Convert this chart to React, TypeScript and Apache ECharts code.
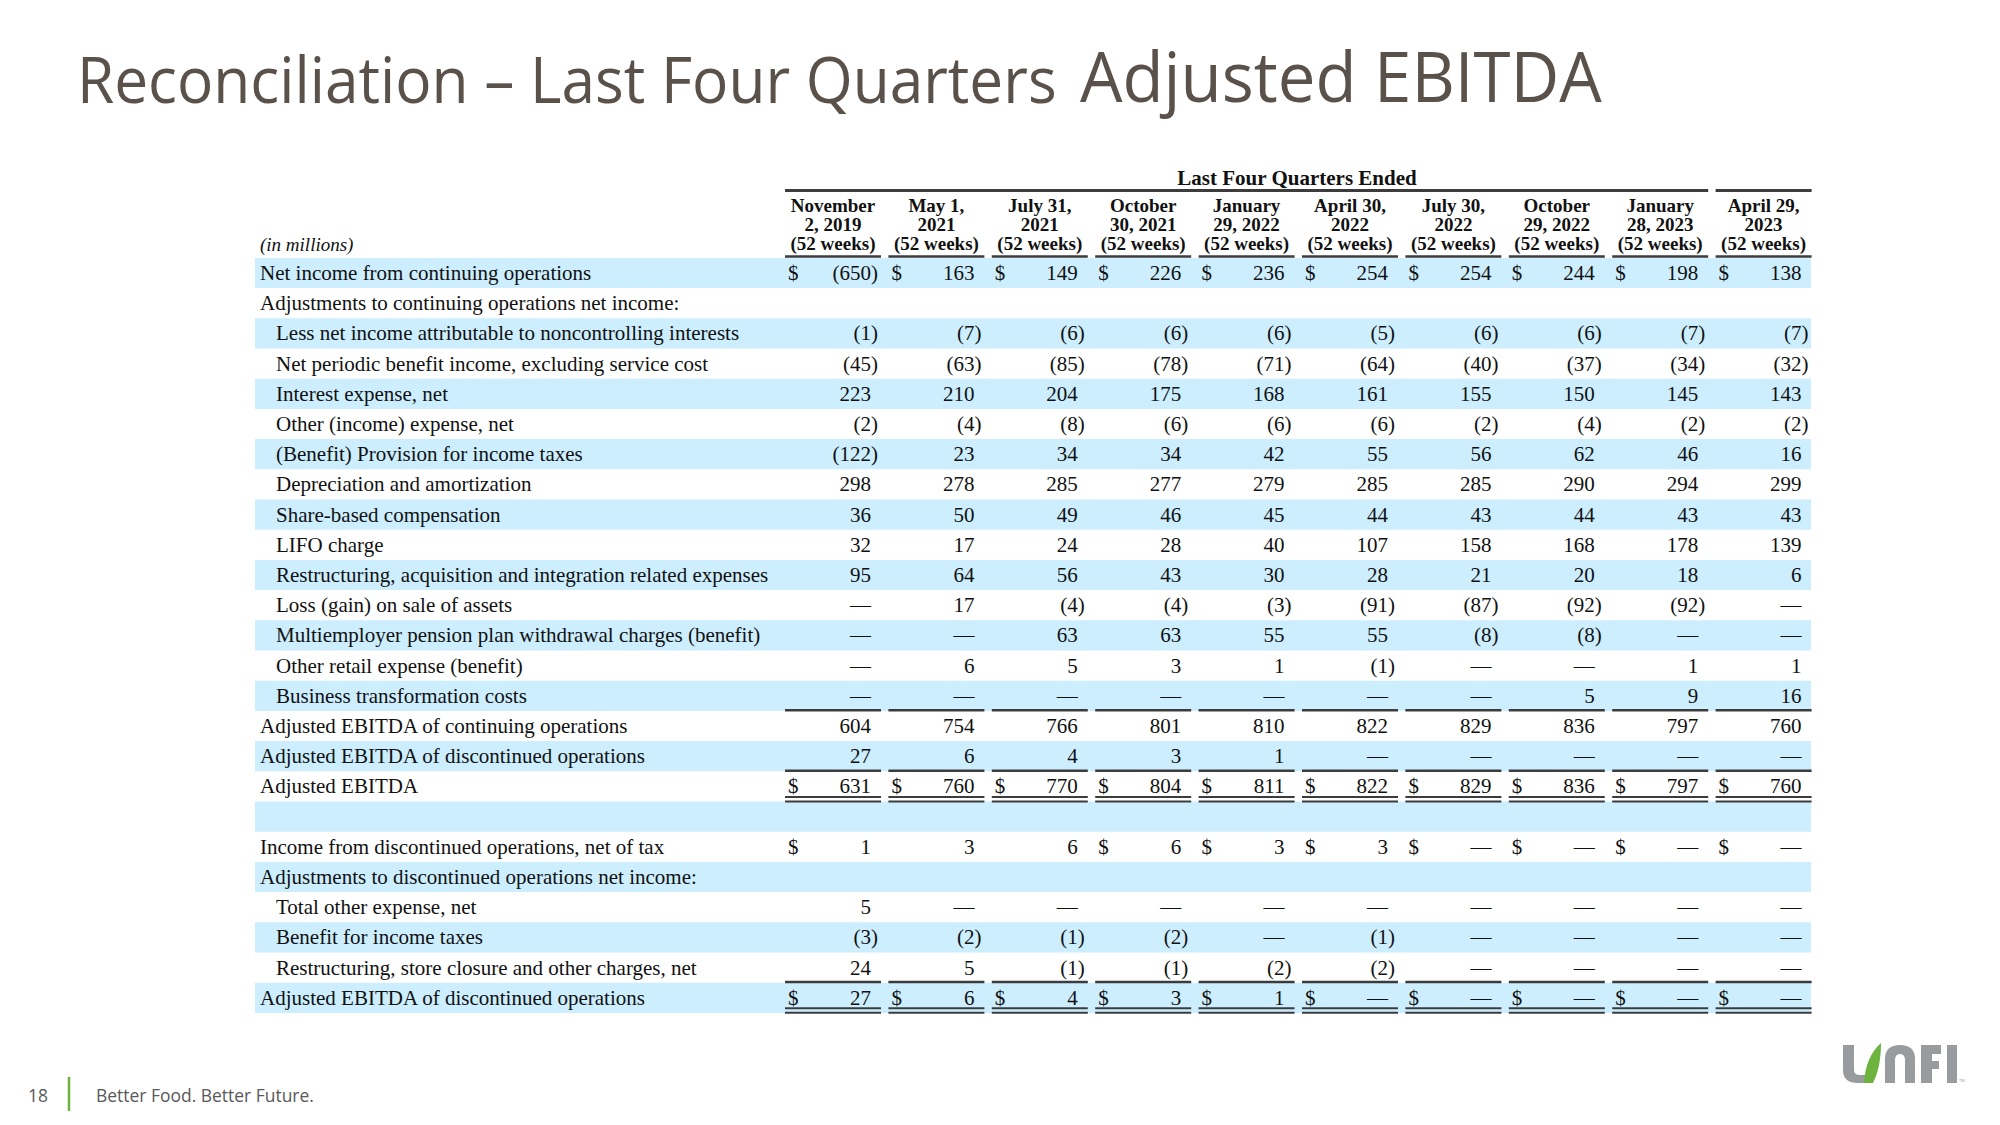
import React, { useEffect, useRef } from "react";
import * as echarts from "echarts";

// ---------- DATA ----------
const titleSmall = "Reconciliation – Last Four Quarters";
const titleBig = "Adjusted EBITDA";
const spanHeader = "Last Four Quarters Ended";
const unitsLabel = "(in millions)";
const footerPage = "18";
const footerText = "Better Food. Better Future.";

const headerLine1 = ["November", "May 1,", "July 31,", "October", "January", "April 30,", "July 30,", "October", "January", "April 29,"];
const headerLine2 = ["2, 2019", "2021", "2021", "30, 2021", "29, 2022", "2022", "2022", "29, 2022", "28, 2023", "2023"];
const headerLine3 = ["(52 weeks)", "(52 weeks)", "(52 weeks)", "(52 weeks)", "(52 weeks)", "(52 weeks)", "(52 weeks)", "(52 weeks)", "(52 weeks)", "(52 weeks)"];

const rowLabels = [
  "Net income from continuing operations",
  "Adjustments to continuing operations net income:",
  "Less net income attributable to noncontrolling interests",
  "Net periodic benefit income, excluding service cost",
  "Interest expense, net",
  "Other (income) expense, net",
  "(Benefit) Provision for income taxes",
  "Depreciation and amortization",
  "Share-based compensation",
  "LIFO charge",
  "Restructuring, acquisition and integration related expenses",
  "Loss (gain) on sale of assets",
  "Multiemployer pension plan withdrawal charges (benefit)",
  "Other retail expense (benefit)",
  "Business transformation costs",
  "Adjusted EBITDA of continuing operations",
  "Adjusted EBITDA of discontinued operations",
  "Adjusted EBITDA",
  "",
  "Income from discontinued operations, net of tax",
  "Adjustments to discontinued operations net income:",
  "Total other expense, net",
  "Benefit for income taxes",
  "Restructuring, store closure and other charges, net",
  "Adjusted EBITDA of discontinued operations",
];
const rowIndent = [0, 0, 1, 1, 1, 1, 1, 1, 1, 1, 1, 1, 1, 1, 1, 0, 0, 0, 0, 0, 0, 1, 1, 1, 0];

// values: 0 is shown as a dash
const netIncomeCont = [-650, 163, 149, 226, 236, 254, 254, 244, 198, 138];
const noncontrolling = [-1, -7, -6, -6, -6, -5, -6, -6, -7, -7];
const netPeriodicBenefit = [-45, -63, -85, -78, -71, -64, -40, -37, -34, -32];
const interestExpense = [223, 210, 204, 175, 168, 161, 155, 150, 145, 143];
const otherIncomeExpense = [-2, -4, -8, -6, -6, -6, -2, -4, -2, -2];
const incomeTaxes = [-122, 23, 34, 34, 42, 55, 56, 62, 46, 16];
const depreciation = [298, 278, 285, 277, 279, 285, 285, 290, 294, 299];
const shareBased = [36, 50, 49, 46, 45, 44, 43, 44, 43, 43];
const lifoCharge = [32, 17, 24, 28, 40, 107, 158, 168, 178, 139];
const restructuringAcq = [95, 64, 56, 43, 30, 28, 21, 20, 18, 6];
const lossGainAssets = [0, 17, -4, -4, -3, -91, -87, -92, -92, 0];
const multiemployer = [0, 0, 63, 63, 55, 55, -8, -8, 0, 0];
const otherRetail = [0, 6, 5, 3, 1, -1, 0, 0, 1, 1];
const businessTransform = [0, 0, 0, 0, 0, 0, 0, 5, 9, 16];
const adjEbitdaCont = [604, 754, 766, 801, 810, 822, 829, 836, 797, 760];
const adjEbitdaDisc = [27, 6, 4, 3, 1, 0, 0, 0, 0, 0];
const adjEbitda = [631, 760, 770, 804, 811, 822, 829, 836, 797, 760];
const incomeDisc = [1, 3, 6, 6, 3, 3, 0, 0, 0, 0];
const totalOtherExpense = [5, 0, 0, 0, 0, 0, 0, 0, 0, 0];
const benefitTaxesDisc = [-3, -2, -1, -2, 0, -1, 0, 0, 0, 0];
const restructuringDisc = [24, 5, -1, -1, -2, -2, 0, 0, 0, 0];
const adjEbitdaDiscTotal = [27, 6, 4, 3, 1, 0, 0, 0, 0, 0];

const rowValues: (number[] | null)[] = [
  netIncomeCont, null, noncontrolling, netPeriodicBenefit, interestExpense, otherIncomeExpense,
  incomeTaxes, depreciation, shareBased, lifoCharge, restructuringAcq, lossGainAssets,
  multiemployer, otherRetail, businessTransform, adjEbitdaCont, adjEbitdaDisc, adjEbitda,
  null, incomeDisc, null, totalOtherExpense, benefitTaxesDisc, restructuringDisc, adjEbitdaDiscTotal,
];

const allDollars = [1, 1, 1, 1, 1, 1, 1, 1, 1, 1];
const incomeDiscDollars = [1, 0, 0, 1, 1, 1, 1, 1, 1, 1];
const dollarRows: Record<number, number[]> = { 0: allDollars, 17: allDollars, 19: incomeDiscDollars, 24: allDollars };
const singleRuleRows = [14, 16, 23];
const doubleRuleRows = [17, 24];

// ---------- LAYOUT ----------
const ROW0 = 273;
const ROWH = 30.2;
const COL_R0 = 871;
const COL_STEP = 103.4;
const BAND_X0 = 255;
const BAND_X1 = 1811;
const LABEL_X = [260, 276];
const SERIF = '"Liberation Serif", "Times New Roman", serif';
const SANS = '"Open Sans", "Noto Sans", sans-serif';
const TXT = "#111111";
const RULE = "#3c3c3c";
const BAND = "#cceeff";
const TITLE_C = "#5a514b";

const rowY = (k: number) => ROW0 + ROWH * k;
const colR = (i: number) => COL_R0 + COL_STEP * i;

function measure(text: string, font: string) {
  const ctx = document.createElement("canvas").getContext("2d");
  if (!ctx) return 1;
  ctx.font = font;
  return ctx.measureText(text).width || 1;
}

let shapesRegistered = false;
function registerLogo() {
  if (shapesRegistered) return;
  shapesRegistered = true;
  echarts.graphic.registerShape(
    "unfiU",
    echarts.graphic.extendPath("M0 2 L11 2 L11 27 Q11 32 17 32 L24 32 L22 40 L15 40 Q0 40 0 27 Z", {})
  );
  echarts.graphic.registerShape(
    "unfiLeaf",
    echarts.graphic.extendPath("M21 40 C22 22 28 9 38 0 C38 17 35 30 30 40 Z", {})
  );
  echarts.graphic.registerShape(
    "unfiN",
    echarts.graphic.extendPath("M42 40 L42 16 Q42 2 57 2 Q72 2 72 16 L72 40 L62 40 L62 17 Q62 11 57 11 Q52 11 52 17 L52 40 Z", {})
  );
  echarts.graphic.registerShape(
    "unfiF",
    echarts.graphic.extendPath("M78 2 L98 2 L98 11 L89 11 L89 18 L96 18 L96 26 L89 26 L89 40 L78 40 Z", {})
  );
}

function fmt(v: number) {
  if (v === 0) return "—";
  if (v < 0) return "(" + Math.abs(v) + ")";
  return String(v);
}

function buildElements() {
  const els: any[] = [];
  const bodyFont = `21px ${SERIF}`;

  // bands
  rowLabels.forEach((_, k) => {
    if (k % 2 === 0) {
      els.push({
        type: "rect",
        shape: { x: BAND_X0, y: rowY(k) - ROWH / 2, width: BAND_X1 - BAND_X0, height: ROWH },
        style: { fill: BAND },
        z: 1,
      });
    }
  });

  const hline = (x1: number, x2: number, y: number, w = 2.5) =>
    els.push({ type: "line", shape: { x1, y1: y, x2, y2: y }, style: { stroke: RULE, lineWidth: w }, z: 3 });

  // header rules
  hline(colR(0) - 86, colR(8) + 10, 190.5, 3);
  hline(colR(9) - 86, colR(9) + 10, 190.5, 3);
  for (let i = 0; i < 10; i++) hline(colR(i) - 86, colR(i) + 10, 256.5, 2.5);

  singleRuleRows.forEach((k) => {
    for (let i = 0; i < 10; i++) hline(colR(i) - 86, colR(i) + 10, rowY(k) + 14.5, 2.5);
  });
  doubleRuleRows.forEach((k) => {
    for (let i = 0; i < 10; i++) {
      hline(colR(i) - 86, colR(i) + 10, rowY(k) + 10.5, 2);
      hline(colR(i) - 86, colR(i) + 10, rowY(k) + 15, 2);
    }
  });

  // headers
  els.push({
    type: "text",
    style: { text: spanHeader, x: 1297, y: 178, font: `bold 21px ${SERIF}`, fill: TXT, align: "center", verticalAlign: "middle" },
    z: 5,
  });
  const hdrLines = [headerLine1, headerLine2, headerLine3];
  const hdrY = [205, 224, 243];
  hdrLines.forEach((line, li) => {
    line.forEach((t, i) => {
      els.push({
        type: "text",
        style: { text: t, x: colR(i) - 38, y: hdrY[li], font: `bold 19px ${SERIF}`, fill: TXT, align: "center", verticalAlign: "middle" },
        z: 5,
      });
    });
  });
  els.push({
    type: "text",
    style: { text: unitsLabel, x: 260, y: 244, font: `italic 19px ${SERIF}`, fill: TXT, align: "left", verticalAlign: "middle" },
    z: 5,
  });

  // rows
  rowLabels.forEach((label, k) => {
    const y = rowY(k);
    if (label) {
      els.push({
        type: "text",
        style: { text: label, x: LABEL_X[rowIndent[k]], y, font: bodyFont, fill: TXT, align: "left", verticalAlign: "middle" },
        z: 5,
      });
    }
    const vals = rowValues[k];
    if (!vals) return;
    vals.forEach((v, i) => {
      const r = colR(i);
      els.push({
        type: "text",
        style: { text: fmt(v), x: v < 0 ? r + 7 : r, y, font: bodyFont, fill: TXT, align: "right", verticalAlign: "middle" },
        z: 5,
      });
      const d = dollarRows[k];
      if (d && d[i]) {
        els.push({
          type: "text",
          style: { text: "$", x: r - 83, y, font: bodyFont, fill: TXT, align: "left", verticalAlign: "middle" },
          z: 5,
        });
      }
    });
  });

  // title
  const fSmall = `64px ${SANS}`;
  const fBig = `70px ${SANS}`;
  const sSmall = 980 / measure(titleSmall, fSmall);
  const sBig = 522 / measure(titleBig, fBig);
  els.push({
    type: "text",
    x: 77,
    y: 78.5,
    scaleX: sSmall,
    style: { text: titleSmall, x: 0, y: 0, font: fSmall, fill: TITLE_C, align: "left", verticalAlign: "middle" },
    z: 5,
  });
  els.push({
    type: "text",
    x: 1080,
    y: 74.5,
    scaleX: sBig,
    style: { text: titleBig, x: 0, y: 0, font: fBig, fill: TITLE_C, align: "left", verticalAlign: "middle" },
    z: 5,
  });

  // footer
  const fFoot = `19px ${SANS}`;
  const sFoot = 218 / measure(footerText, fFoot);
  els.push({
    type: "text",
    x: 28,
    y: 1095,
    scaleX: sFoot,
    style: { text: footerPage, x: 0, y: 0, font: fFoot, fill: "#595959", align: "left", verticalAlign: "middle" },
    z: 5,
  });
  els.push({
    type: "line",
    shape: { x1: 69, y1: 1077, x2: 69, y2: 1111 },
    style: { stroke: "#6cb33f", lineWidth: 2.5 },
    z: 5,
  });
  els.push({
    type: "text",
    x: 96,
    y: 1095,
    scaleX: sFoot,
    style: { text: footerText, x: 0, y: 0, font: fFoot, fill: "#595959", align: "left", verticalAlign: "middle" },
    z: 5,
  });

  // logo
  const LX = 1843;
  const LY = 1043;
  const gray = "#989c9e";
  ["unfiU", "unfiN", "unfiF"].forEach((t) =>
    els.push({ type: t, x: LX, y: LY, scaleX: 1, scaleY: 1, style: { fill: gray }, z: 6 })
  );
  els.push({ type: "unfiLeaf", x: LX, y: LY, scaleX: 1, scaleY: 1, style: { fill: "#6cb33f" }, z: 7 });
  els.push({ type: "rect", shape: { x: LX + 104, y: LY + 2, width: 10, height: 38 }, style: { fill: gray }, z: 6 });
  els.push({
    type: "text",
    style: { text: "TM", x: LX + 116, y: LY + 39, font: `4px ${SANS}`, fill: gray, align: "left", verticalAlign: "bottom" },
    z: 6,
  });

  return els;
}

export default function App() {
  const ref = useRef<HTMLDivElement>(null);
  useEffect(() => {
    if (!ref.current) return;
    registerLogo();
    const chart = echarts.init(ref.current, undefined, { renderer: "svg" });
    chart.setOption({
      animation: false,
      backgroundColor: "#ffffff",
      graphic: { elements: buildElements() },
    });
    return () => chart.dispose();
  }, []);
  return (
    <div
      ref={ref}
      style={{ position: "fixed", left: 0, top: 0, width: 2000, height: 1125, background: "#ffffff" }}
    />
  );
}
